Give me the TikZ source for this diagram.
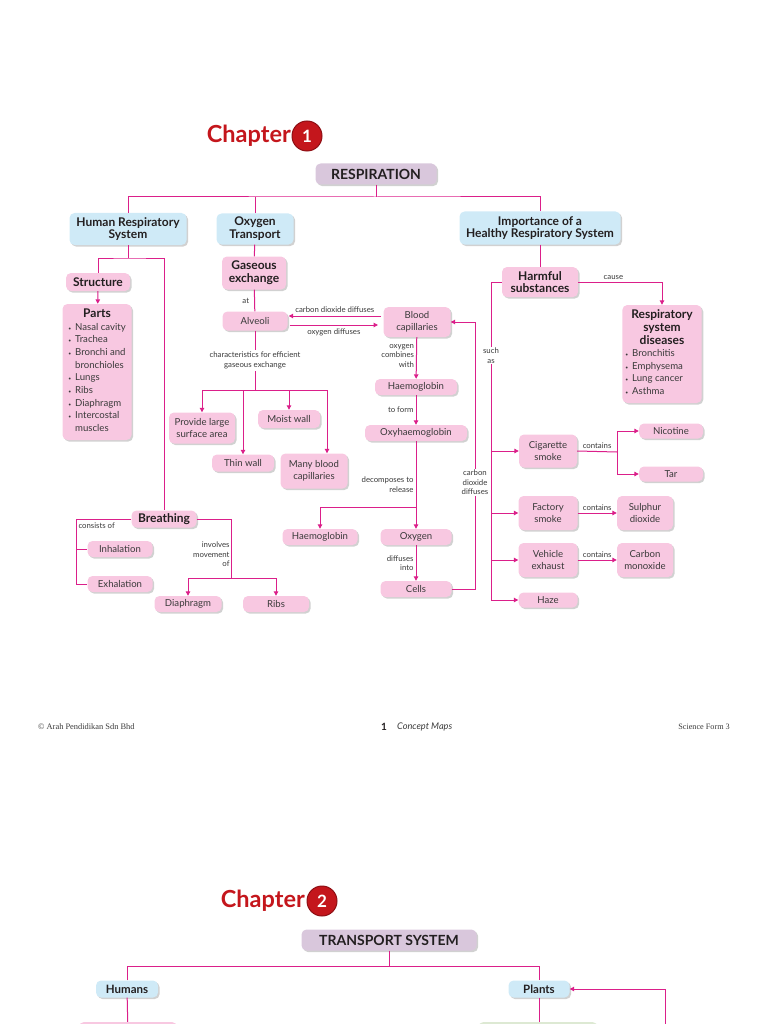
\documentclass[tikz,border=0pt]{standalone}
\usepackage{fontspec}
\setmainfont{Lato}
\newfontfamily\footserif{Liberation Serif}
\usetikzlibrary{arrows.meta,shadows,calc}
\definecolor{mag}{HTML}{DB1F8A}
\definecolor{pk}{HTML}{F8C8E1}
\definecolor{bl}{HTML}{CFEAF7}
\definecolor{pu}{HTML}{D9C7DC}
\definecolor{txt}{HTML}{3A3A3A}
\definecolor{btxt}{HTML}{231F20}
\definecolor{chred}{HTML}{C4161C}
\definecolor{chdark}{HTML}{8E0F14}
\definecolor{grn}{HTML}{DDE9D3}
\tikzset{
 conn/.style={draw=mag, line width=1pt},
 arr/.style={conn, -{Triangle[length=4.5pt,width=4.5pt]}},
 cbox/.style={rounded corners=5pt, inner sep=2pt, align=center, text=txt,
   drop shadow={shadow xshift=1.6pt, shadow yshift=-1.6pt, fill=black, opacity=0.18}},
 pbox/.style={cbox, fill=pk, font=\fontsize{9.6}{11.5}\selectfont},
 pboxb/.style={cbox, fill=pk, text=btxt, font=\bfseries\fontsize{12}{12.8}\selectfont},
 bbox/.style={cbox, fill=bl, text=btxt, font=\bfseries\fontsize{12}{12.8}\selectfont},
 tbox/.style={cbox, fill=pu, text=btxt, font=\bfseries\fontsize{14}{15}\selectfont},
 lbl/.style={font=\fontsize{7.8}{9.6}\selectfont, text=txt, inner sep=1pt},
 sz/.style 2 args={minimum width=#1pt, minimum height=#2pt},
}
\begin{document}
\begin{tikzpicture}[x=1pt,y=-1pt]
\useasboundingbox (0,0) rectangle (768,1024);
% ---------- Chapter 1 ----------
\node[font=\bfseries\fontsize{23.5}{26}\selectfont, text=chred, anchor=east, inner sep=0] (ch1) at (291,136) {Chapter};
\node[circle, fill=chred, draw=chdark, line width=1pt, minimum size=30pt, inner sep=0, text=white, font=\bfseries\fontsize{17}{20}\selectfont] (c1) at (307,136) {1};

\node[tbox, sz={121}{21}] (resp) at (376,174) {RESPIRATION};
\node[bbox, sz={117}{32}] (hrs) at (128,229) {Human Respiratory\\System};
\node[bbox, sz={77}{31}] (ot) at (255,229) {Oxygen\\Transport};
\node[bbox, sz={161}{33}] (ihrs) at (540,228) {Importance of a\\Healthy Respiratory System};

\coordinate (j1) at (376,197);
\draw[conn] (resp) -- (j1);
\draw[conn] (hrs.north) |- (j1) -| (ihrs.north);
\draw[conn] (ot.north) -- (ot.north |- j1);

% left branch
\node[pboxb, sz={64}{18}] (struct) at (98,282) {Structure};
\node[pbox, sz={69}{136}, inner sep=3pt] (parts) at (97,372) {\fontsize{9.6}{12.7}\selectfont
\begin{tabular}{@{}l@{\hspace{4pt}}l@{}}
\multicolumn{2}{c}{\bfseries\fontsize{12}{12.7}\selectfont\color{btxt}Parts}\\
{\tiny\textbullet} & Nasal cavity\\
{\tiny\textbullet} & Trachea\\
{\tiny\textbullet} & Bronchi and\\
 & bronchioles\\
{\tiny\textbullet} & Lungs\\
{\tiny\textbullet} & Ribs\\
{\tiny\textbullet} & Diaphragm\\
{\tiny\textbullet} & Intercostal\\
 & muscles
\end{tabular}};
\node[pboxb, sz={65}{17}] (breath) at (164,519) {Breathing};
\coordinate (j2) at (128,258);
\draw[conn] (hrs) -- (j2);
\draw[conn] (struct.north) |- (j2) -| (breath.north);
\draw[arr] (struct) -- (parts);

\node[pbox, sz={65}{16}] (inh) at (120,549) {Inhalation};
\node[pbox, sz={65}{16}] (exh) at (120,584) {Exhalation};
\node[pbox, sz={67}{16}] (dia) at (188,604) {Diaphragm};
\node[pbox, sz={66}{16}] (ribs) at (276,604) {Ribs};
\coordinate (bl) at (76,584);
\draw[conn] (breath.west) -| node[lbl, anchor=north west, pos=0.5, xshift=1pt, yshift=-2pt] {consists of} (bl) -- (exh.west);
\draw[conn] (inh.west -| bl) -- (inh.west);
\coordinate (br) at (231,578);
\draw[conn] (breath.east) -| node[lbl, left, align=right, pos=0.8] {involves\\movement\\of} (br);
\draw[arr] (br) -| (dia.north);
\draw[arr] (br) -| (ribs.north);

% middle branch
\node[pboxb, sz={64}{33}] (ge) at (254,273) {Gaseous\\exchange};
\node[pbox, sz={65}{19}] (alv) at (255,321) {Alveoli};
\node[pbox, sz={67}{30}] (bc) at (417,322) {Blood\\capillaries};
\draw[conn] (ot) -- (ge);
\draw[conn] (ge) -- node[lbl, left, xshift=-4pt] {at} (alv);
\draw[arr] (381,316) coordinate (bcw) -- ([xshift=1pt]alv.east |- bcw) node[lbl, above, midway, yshift=2pt] {carbon dioxide diffuses};
\draw[arr] ([xshift=2pt]alv.east |- 0,325) coordinate (alve) -- (378,325) node[lbl, below, midway, yshift=-2pt] {oxygen diffuses};

\node[pbox, sz={66}{31}] (pls) at (202,428) {Provide large\\surface area};
\node[pbox, sz={62}{18}] (moist) at (289,419) {Moist wall};
\node[pbox, sz={62}{17}] (thin) at (243,463) {Thin wall};
\node[pbox, sz={67}{35}] (mbc) at (314,471) {Many blood\\capillaries};
\coordinate (j3) at (255,390);
\draw[conn] (alv) -- node[lbl, fill=white, align=center, inner sep=2pt] {characteristics for efficient\\gaseous exchange} (j3);
\draw[arr] (j3) -| (pls.north);
\draw[arr] (j3) -| ([xshift=13pt]mbc.north);
\draw[arr] (thin.north |- j3) -- (thin.north);
\draw[arr] (moist.north |- j3) -- (moist.north);

\node[pbox, sz={82}{16}] (hb1) at (416,387) {Haemoglobin};
\node[pbox, sz={102}{16}] (oxy) at (416,433) {Oxyhaemoglobin};
\node[pbox, sz={75}{16}] (hb2) at (320,537) {Haemoglobin};
\node[pbox, sz={71}{16}] (oxg) at (416,537) {Oxygen};
\node[pbox, sz={71}{16}] (cells) at (416,589) {Cells};
\draw[arr] (bc) -- node[lbl, left, align=right, xshift=-1pt, pos=0.45] {oxygen\\combines\\with} (hb1);
\draw[arr] (hb1) -- node[lbl, left, xshift=-1pt] {to form} (oxy);
\coordinate (j4) at (416,507);
\draw[conn] (oxy) -- node[lbl, left, align=right, xshift=-1pt, pos=0.66] {decomposes to\\release} (j4);
\draw[arr] (j4) -- (oxg);
\draw[arr] (j4) -| (hb2.north);
\draw[arr] (oxg) -- node[lbl, left, align=right, xshift=-1pt] {diffuses\\into} (cells);
\coordinate (cc1) at (475,589);
\coordinate (cc2) at (475,322);
\draw[arr] (cells.east) -- (cc1) -- node[lbl, fill=white, align=center, pos=0.40] {carbon\\dioxide\\diffuses} (cc2) -- (bc.east);

% right branch
\node[pboxb, sz={76}{30}] (hs) at (540,282) {Harmful\\substances};
\draw[conn] (ihrs) -- (hs);
\node[pbox, sz={79}{98}, inner sep=3pt] (rsd) at (662,354) {\fontsize{9.6}{12.6}\selectfont
\begin{tabular}{@{}l@{\hspace{4pt}}l@{}}
\multicolumn{2}{c}{\bfseries\fontsize{12}{12.6}\selectfont\color{btxt}Respiratory}\\
\multicolumn{2}{c}{\bfseries\fontsize{12}{12.6}\selectfont\color{btxt}system}\\
\multicolumn{2}{c}{\bfseries\fontsize{12}{12.6}\selectfont\color{btxt}diseases}\\
{\tiny\textbullet} & Bronchitis\\
{\tiny\textbullet} & Emphysema\\
{\tiny\textbullet} & Lung cancer\\
{\tiny\textbullet} & Asthma
\end{tabular}};
\draw[arr] (hs.east) -| node[lbl, above, pos=0.21, yshift=1pt] {cause} (rsd.north);

\node[pbox, sz={58}{33}] (cig) at (548,451) {Cigarette\\smoke};
\node[pbox, sz={64}{15}] (nic) at (671,431) {Nicotine};
\node[pbox, sz={64}{15}] (tar) at (671,474) {Tar};
\node[pbox, sz={59}{34}] (fac) at (548,513) {Factory\\smoke};
\node[pbox, sz={56}{34}] (sul) at (645,513) {Sulphur\\dioxide};
\node[pbox, sz={59}{34}] (veh) at (548,560) {Vehicle\\exhaust};
\node[pbox, sz={56}{34}] (co) at (645,560) {Carbon\\monoxide};
\node[pbox, sz={59}{15}] (haze) at (548,600) {Haze};

\coordinate (sa) at (491,600);
\draw[conn] (hs.west) -| node[lbl, fill=white, align=center, pos=0.616] {such\\as} (sa);
\draw[arr] (sa) -- (haze);
\draw[arr] (cig.west -| sa) -- (cig.west);
\draw[arr] (fac.west -| sa) -- (fac.west);
\draw[arr] (veh.west -| sa) -- (veh.west);
\coordinate (j6) at (617,452);
\draw[conn] (cig.east) -- node[lbl, above, yshift=1pt] {contains} (j6);
\draw[arr] (j6) |- (nic.west);
\draw[arr] (j6) |- (tar.west);
\draw[arr] (fac) -- node[lbl, above, yshift=1pt] {contains} (sul);
\draw[arr] (veh) -- node[lbl, above, yshift=1pt] {contains} (co);

% ---------- footer ----------
\node[font=\footserif\fontsize{8.4}{10}\selectfont, text=txt, anchor=west, inner sep=0] (f1) at (38,727) {\textcopyright\ Arah Pendidikan Sdn Bhd};
\node[font=\bfseries\fontsize{10}{12}\selectfont, text=btxt, anchor=west, inner sep=0] (f2) at (381,727) {1};
\node[font=\itshape\fontsize{9.2}{11}\selectfont, text=txt, anchor=west, inner sep=0] (f3) at (397,727) {Concept Maps};
\node[font=\footserif\fontsize{8.2}{10}\selectfont, text=txt, anchor=east, inner sep=0] (f4) at (730,727) {Science Form 3};

% ---------- Chapter 2 ----------
\node[font=\bfseries\fontsize{23.5}{26}\selectfont, text=chred, anchor=east, inner sep=0] (ch2) at (305,901) {Chapter};
\node[circle, fill=chred, draw=chdark, line width=1pt, minimum size=30pt, inner sep=0, text=white, font=\bfseries\fontsize{17}{20}\selectfont] (c2) at (322,901) {2};
\node[tbox, sz={175}{21}] (trans) at (389,940) {TRANSPORT SYSTEM};
\node[bbox, sz={62}{17}, font=\bfseries\fontsize{11.5}{12}\selectfont] (hum) at (127,989) {Humans};
\node[bbox, sz={61}{17}, font=\bfseries\fontsize{11.5}{12}\selectfont] (pla) at (539,989) {Plants};
\node[pbox, sz={98}{26}] (pl) at (128,1035) {};
\node[cbox, fill=grn, sz={119}{26}] (pr) at (538,1035) {};
\coordinate (k1) at (389,966);
\draw[conn] (trans) -- (k1);
\draw[conn] (hum.north) |- (k1) -| (pla.north);
\draw[conn] (hum) -- (pl);
\draw[conn] (pla) -- (pla |- pr.north);
\coordinate (k2) at (665,1030);
\draw[arr] (k2) |- (pla.east);
\end{tikzpicture}
\end{document}
